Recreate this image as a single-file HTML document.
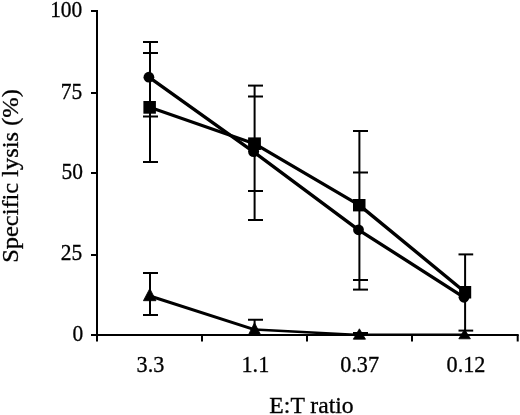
<!DOCTYPE html>
<html lang="en">
<head>
<meta charset="utf-8">
<title>Specific lysis vs E:T ratio</title>
<style>
  html, body { margin: 0; padding: 0; background: #fff; }
  body { width: 520px; height: 415px; overflow: hidden; }
  svg { display: block; }
  svg { will-change: transform; filter: grayscale(1); }
  text { font-family: "Liberation Serif", serif; font-size: 22px; fill: #000; }
  .lbl text { stroke: #000; stroke-width: 0.3px; }
</style>
</head>
<body>
<svg width="520" height="415" viewBox="0 0 520 415">
  <rect width="520" height="415" fill="#fff"/>

  <!-- axes -->
  <g stroke="#000" stroke-width="2" fill="none" stroke-linecap="butt">
    <line x1="97" y1="10" x2="97" y2="341.5"/>
    <line x1="91" y1="335" x2="518.7" y2="335"/>
    <!-- y ticks -->
    <line x1="91" y1="11" x2="97" y2="11"/>
    <line x1="91" y1="93" x2="97" y2="93"/>
    <line x1="91" y1="173" x2="97" y2="173"/>
    <line x1="91" y1="255" x2="97" y2="255"/>
    <!-- x ticks -->
    <line x1="202" y1="335" x2="202" y2="341.5"/>
    <line x1="307" y1="335" x2="307" y2="341.5"/>
    <line x1="412" y1="335" x2="412" y2="341.5"/>
    <line x1="517.7" y1="335" x2="517.7" y2="341.5"/>
  </g>

  <!-- error bars -->
  <g stroke="#000" stroke-width="2" fill="none">
    <!-- 3.3 -->
    <line x1="150" y1="42" x2="150" y2="162"/>
    <line x1="143" y1="42" x2="158" y2="42"/>
    <line x1="143" y1="53" x2="158" y2="53"/>
    <line x1="143" y1="116.5" x2="158" y2="116.5"/>
    <line x1="143" y1="162" x2="158" y2="162"/>
    <line x1="150" y1="273" x2="150" y2="315"/>
    <line x1="143" y1="273" x2="158" y2="273"/>
    <line x1="143" y1="315" x2="158" y2="315"/>
    <!-- 1.1 -->
    <line x1="254.6" y1="85.6" x2="254.6" y2="220"/>
    <line x1="248" y1="85.6" x2="263" y2="85.6"/>
    <line x1="248" y1="96.5" x2="263" y2="96.5"/>
    <line x1="248" y1="191" x2="263" y2="191"/>
    <line x1="248" y1="220" x2="263" y2="220"/>
    <line x1="254.6" y1="319.75" x2="254.6" y2="334"/>
    <line x1="248" y1="319.75" x2="263" y2="319.75"/>
    <!-- 0.37 -->
    <line x1="359.4" y1="131" x2="359.4" y2="289.6"/>
    <line x1="353" y1="131" x2="368" y2="131"/>
    <line x1="353" y1="172.5" x2="368" y2="172.5"/>
    <line x1="353" y1="280" x2="368" y2="280"/>
    <line x1="353" y1="289.6" x2="368" y2="289.6"/>
    <line x1="353" y1="333" x2="368" y2="333"/>
    <!-- 0.12 -->
    <line x1="465.1" y1="254.4" x2="465.1" y2="334"/>
    <line x1="458.5" y1="254.4" x2="473.2" y2="254.4"/>
    <line x1="458.5" y1="330.6" x2="473.2" y2="330.6"/>
  </g>

  <!-- data lines -->
  <g stroke="#000" fill="none" stroke-linecap="round">
    <!-- circle series -->
    <line x1="148.9" y1="77.2" x2="253.6" y2="151.8" stroke-width="3.35"/>
    <line x1="253.6" y1="151.8" x2="358.5" y2="229.8" stroke-width="3.36"/>
    <line x1="358.5" y1="229.8" x2="464" y2="297.3" stroke-width="3.32"/>
    <!-- square series -->
    <line x1="149.7" y1="107.25" x2="254.5" y2="143.7" stroke-width="3.06"/>
    <line x1="254.5" y1="143.7" x2="359.25" y2="205.1" stroke-width="3.28"/>
    <line x1="359.25" y1="205.1" x2="465.2" y2="292.2" stroke-width="3.38"/>
    <!-- triangle series -->
    <line x1="149.9" y1="296" x2="254.5" y2="329.6" stroke-width="3.02"/>
    <line x1="254.5" y1="329.6" x2="359.4" y2="335" stroke-width="2.53"/>
    <line x1="359.4" y1="334.6" x2="465" y2="334.6" stroke-width="2.40"/>
  </g>

  <!-- markers -->
  <g fill="#000" stroke="none">
    <circle cx="148.9" cy="77.2" r="5.4"/>
    <circle cx="253.6" cy="151.6" r="5.5"/>
    <circle cx="358.5" cy="229.8" r="5.4"/>
    <circle cx="464" cy="297.3" r="5.4"/>
    <rect x="143.4" y="101" width="12.5" height="12.7"/>
    <rect x="248.1" y="137.4" width="12.8" height="12.6"/>
    <rect x="353" y="199" width="12.5" height="12.4"/>
    <rect x="459.1" y="286" width="12.1" height="12.5"/>
  </g>
  <g fill="#000" stroke="#000" stroke-width="0.8" stroke-linejoin="round">
    <polygon points="149.8,288.6 143.4,300.7 156,300.7"/>
    <polygon points="254.5,322.8 248.6,334.5 260.5,334.5"/>
    <polygon points="359.4,328.8 353.3,339.2 365.5,339.2"/>
    <polygon points="464.6,329.4 458.8,338.8 470.4,338.8"/>
  </g>

  <!-- y tick labels -->
  <g text-anchor="end" class="lbl">
    <text transform="translate(82.3,16.6) scale(0.975,1.025)">100</text>
    <text transform="translate(82.3,98.8) scale(0.975,1.025)">75</text>
    <text transform="translate(83,178.7) scale(0.975,1.025)">50</text>
    <text transform="translate(82.3,260.3) scale(0.975,1.025)">25</text>
    <text transform="translate(83.1,340.9) scale(0.975,1.025)">0</text>
  </g>

  <!-- x tick labels -->
  <g text-anchor="middle" class="lbl">
    <text transform="translate(150.5,372.3) scale(1.01,1.025)">3.3</text>
    <text transform="translate(255.4,372.3) scale(1.01,1.025)">1.1</text>
    <text transform="translate(359.6,372.3) scale(1.01,1.025)">0.37</text>
    <text transform="translate(466,372.3) scale(1.01,1.025)">0.12</text>
  </g>

  <!-- axis titles -->
  <g text-anchor="middle" class="lbl">
    <text transform="translate(311.5,413) scale(1.075,1.03)">E:T ratio</text>
    <text transform="translate(18,176) rotate(-90) scale(1.11,1.03)">Specific lysis (%)</text>
  </g>
</svg>
</body>
</html>
